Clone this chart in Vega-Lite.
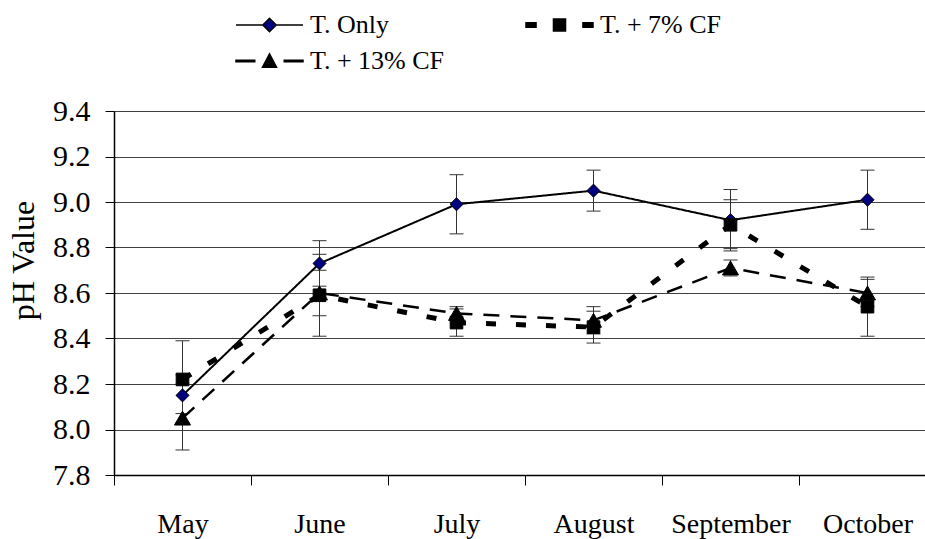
{
  "$schema": "https://vega.github.io/schema/vega-lite/v6.json",
  "width": 811,
  "height": 364,
  "autosize": {"type": "none"},
  "padding": {"left": 114, "top": 111, "right": 0, "bottom": 64},
  "background": "white",
  "config": {
    "view": {"stroke": null}
  },
  "data": {"values": [
    {"month": "May", "i": 0, "series": "T. Only", "value": 8.15, "lo": 7.91, "hi": 8.39},
    {"month": "June", "i": 1, "series": "T. Only", "value": 8.73, "lo": 8.63, "hi": 8.83},
    {"month": "July", "i": 2, "series": "T. Only", "value": 8.99, "lo": 8.86, "hi": 9.12},
    {"month": "August", "i": 3, "series": "T. Only", "value": 9.05, "lo": 8.96, "hi": 9.14},
    {"month": "September", "i": 4, "series": "T. Only", "value": 8.92, "lo": 8.785, "hi": 9.055},
    {"month": "October", "i": 5, "series": "T. Only", "value": 9.01, "lo": 8.88, "hi": 9.14},
    {"month": "May", "i": 0, "series": "T. + 7% CF", "value": 8.22, "lo": 8.2, "hi": 8.24},
    {"month": "June", "i": 1, "series": "T. + 7% CF", "value": 8.59, "lo": 8.41, "hi": 8.77},
    {"month": "July", "i": 2, "series": "T. + 7% CF", "value": 8.47, "lo": 8.41, "hi": 8.53},
    {"month": "August", "i": 3, "series": "T. + 7% CF", "value": 8.45, "lo": 8.38, "hi": 8.52},
    {"month": "September", "i": 4, "series": "T. + 7% CF", "value": 8.9, "lo": 8.795, "hi": 9.01},
    {"month": "October", "i": 5, "series": "T. + 7% CF", "value": 8.54, "lo": 8.41, "hi": 8.67},
    {"month": "May", "i": 0, "series": "T. + 13% CF", "value": 8.05, "lo": 8.03, "hi": 8.07},
    {"month": "June", "i": 1, "series": "T. + 13% CF", "value": 8.6, "lo": 8.5, "hi": 8.7},
    {"month": "July", "i": 2, "series": "T. + 13% CF", "value": 8.51, "lo": 8.48, "hi": 8.54},
    {"month": "August", "i": 3, "series": "T. + 13% CF", "value": 8.48, "lo": 8.42, "hi": 8.54},
    {"month": "September", "i": 4, "series": "T. + 13% CF", "value": 8.71, "lo": 8.675, "hi": 8.745},
    {"month": "October", "i": 5, "series": "T. + 13% CF", "value": 8.6, "lo": 8.54, "hi": 8.66}
  ]},
  "encoding": {
    "x": {
      "field": "month",
      "type": "ordinal",
      "sort": ["May", "June", "July", "August", "September", "October"],
      "scale": {"type": "band", "range": [0, 822], "paddingInner": 0, "paddingOuter": 0},
      "axis": {
        "title": null,
        "labelAngle": 0,
        "labelFont": "Times New Roman",
        "labelFontSize": 28,
        "labelFontWeight": "normal",
        "labelColor": "black",
        "labelPadding": 47,
        "labelBaseline": "alphabetic",
        "labelOverlap": false,
        "labelFlush": false,
        "labelLimit": 300,
        "tickSize": 10,
        "tickColor": "black",
        "tickWidth": 1,
        "domainColor": "black",
        "domainWidth": 1.5,
        "tickBand": "extent",
        "grid": false
      }
    }
  },
  "layer": [
    {
      "mark": {"type": "rule", "color": "#333333", "strokeWidth": 1},
      "encoding": {
        "y": {"field": "lo", "type": "quantitative", "title": "pH Value", "scale": {"domain": [7.8, 9.4], "nice": false, "zero": false}},
        "y2": {"field": "hi"}
      }
    },
    {
      "mark": {"type": "tick", "color": "#333333", "thickness": 1, "size": 14, "opacity": 1},
      "encoding": {
        "y": {"field": "lo", "type": "quantitative", "title": "pH Value"}
      }
    },
    {
      "mark": {"type": "tick", "color": "#333333", "thickness": 1, "size": 14, "opacity": 1},
      "encoding": {
        "y": {"field": "hi", "type": "quantitative", "title": "pH Value"}
      }
    },
    {
      "mark": {"type": "line", "color": "black", "strokeCap": "butt"},
      "encoding": {
        "y": {
          "field": "value",
          "type": "quantitative",
          "title": "pH Value",
          "scale": {"domain": [7.8, 9.4], "nice": false, "zero": false},
          "axis": {
            "values": [7.8, 8.0, 8.2, 8.4, 8.6, 8.8, 9.0, 9.2, 9.4],
            "format": ".1f",
            "labelFont": "serif",
            "labelFontSize": 30,
            "labelFontWeight": "normal",
            "labelColor": "black",
            "labelPadding": 15,
            "labelFlush": false,
            "tickSize": 9,
            "tickColor": "black",
            "domainColor": "black",
            "domainWidth": 1.5,
            "grid": true,
            "gridColor": "#404040",
            "gridWidth": 1,
            "titleFont": "Liberation Serif",
            "titleFontSize": 32,
            "titleFontWeight": "normal",
            "titleColor": "black",
            "titleX": -81,
            "titleY": 149,
            "titleAngle": 270,
            "titleAlign": "center",
            "titleBaseline": "alphabetic"
          }
        },
        "detail": {"field": "series"},
        "order": {"field": "i", "type": "quantitative"},
        "strokeDash": {
          "condition": [
            {"test": "datum.series === 'T. + 7% CF'", "value": [10, 20]},
            {"test": "datum.series === 'T. + 13% CF'", "value": [16, 11]}
          ],
          "value": [1, 0]
        },
        "strokeWidth": {
          "condition": [
            {"test": "datum.series === 'T. + 7% CF'", "value": 5},
            {"test": "datum.series === 'T. + 13% CF'", "value": 2.5}
          ],
          "value": 2
        }
      }
    },
    {
      "mark": {"type": "point", "filled": true, "opacity": 1, "stroke": "black", "strokeWidth": 1},
      "encoding": {
        "y": {"field": "value", "type": "quantitative", "title": "pH Value"},
        "shape": {
          "condition": [
            {"test": "datum.series === 'T. Only'", "value": "diamond"},
            {"test": "datum.series === 'T. + 7% CF'", "value": "square"}
          ],
          "value": "triangle-up"
        },
        "fill": {
          "condition": {"test": "datum.series === 'T. Only'", "value": "#000080"},
          "value": "black"
        },
        "size": {
          "condition": [
            {"test": "datum.series === 'T. Only'", "value": 170},
            {"test": "datum.series === 'T. + 7% CF'", "value": 160}
          ],
          "value": 256
        }
      }
    },
    {
      "data": {"values": []},
      "mark": {"type": "point", "filled": true, "opacity": 1, "strokeWidth": 1.5, "size": 4489},
      "encoding": {
        "shape": {
          "field": "series",
          "type": "nominal",
          "scale": {
            "domain": ["T. Only", "T. + 7% CF", "T. + 13% CF"],
            "range": [
              "M-1,0H-0.2 M0.2,0H1 M-0.2,0L0,-0.2L0.2,0L0,0.2Z",
              "M-1,-0.07H-0.7V0.07H-1Z M0.7,-0.07H1V0.07H0.7Z M-0.18,-0.18H0.18V0.18H-0.18Z",
              "M-1,-0.02H-0.44V0.02H-1Z M0.44,-0.02H1V0.02H0.44Z M0,-0.21L0.21,0.19L-0.21,0.19Z"
            ]
          },
          "legend": {
            "title": null,
            "orient": "none",
            "direction": "horizontal",
            "legendX": 121,
            "legendY": -101,
            "columns": 2,
            "columnPadding": 80,
            "rowPadding": 6,
            "clipHeight": 30,
            "padding": 0,
            "symbolSize": 4489,
            "symbolStrokeWidth": 1.5,
            "labelOffset": 6,
            "labelFont": "Liberation Serif",
            "labelFontSize": 26,
            "labelFontWeight": "normal",
            "labelColor": "black",
            "labelLimit": 400
          }
        },
        "fill": {
          "field": "series",
          "type": "nominal",
          "scale": {
            "domain": ["T. Only", "T. + 7% CF", "T. + 13% CF"],
            "range": ["#000080", "black", "black"]
          },
          "legend": {
            "title": null,
            "orient": "none",
            "direction": "horizontal",
            "legendX": 121,
            "legendY": -101,
            "columns": 2,
            "columnPadding": 80,
            "rowPadding": 6,
            "clipHeight": 30,
            "padding": 0,
            "symbolSize": 4489,
            "symbolStrokeWidth": 1.5,
            "labelOffset": 6,
            "labelFont": "Liberation Serif",
            "labelFontSize": 26,
            "labelFontWeight": "normal",
            "labelColor": "black",
            "labelLimit": 400
          }
        },
        "stroke": {
          "field": "series",
          "type": "nominal",
          "scale": {
            "domain": ["T. Only", "T. + 7% CF", "T. + 13% CF"],
            "range": ["black", "black", "black"]
          },
          "legend": {
            "title": null,
            "orient": "none",
            "direction": "horizontal",
            "legendX": 121,
            "legendY": -101,
            "columns": 2,
            "columnPadding": 80,
            "rowPadding": 6,
            "clipHeight": 30,
            "padding": 0,
            "symbolSize": 4489,
            "symbolStrokeWidth": 1.5,
            "labelOffset": 6,
            "labelFont": "Liberation Serif",
            "labelFontSize": 26,
            "labelFontWeight": "normal",
            "labelColor": "black",
            "labelLimit": 400
          }
        }
      }
    }
  ]
}
